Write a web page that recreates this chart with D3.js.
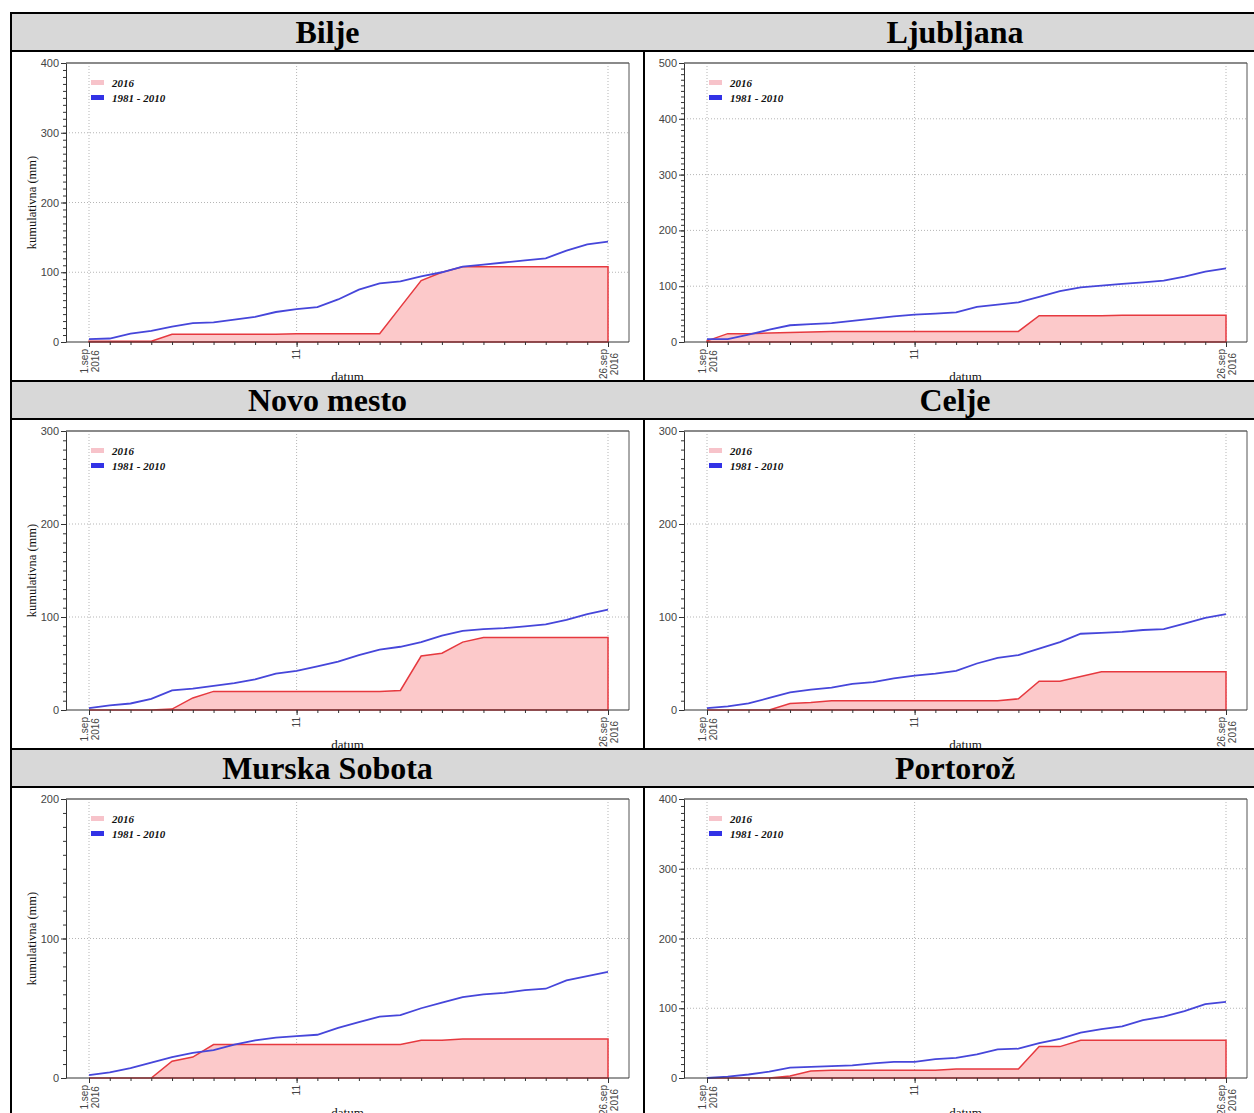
<!DOCTYPE html>
<html>
<head>
<meta charset="utf-8">
<script src="https://cdn.jsdelivr.net/npm/d3@7"></script>
<style>
  html, body { margin: 0; padding: 0; background: #fff; overflow: hidden; }
  .axis text { font-family: "Liberation Sans", Arial, sans-serif; font-size: 11px; fill: #444; }
  .axis line, .axis path { stroke: #333; }
</style>
</head>
<body>
<div id="chart"></div>
<script>
// dnevi v septembru
const days = [1,2,3,4,5,6,7,8,9,10,11,12,13,14,15,16,17,18,19,20,21,22,23,24,25,26]

// kumulativne padavine 2016 (mm)
const bilje2016 = [1,1,1,1,11,11,11,11,11,11,12,12,12,12,12,50,88,100,108,108,108,108,108,108,108,108]
const ljubljana2016 = [2,15,15,16,17,18,19,19,19,19,19,19,19,19,19,19,47,47,47,47,48,48,48,48,48,48]
const novoMesto2016 = [0,0,0,0,1,13,20,20,20,20,20,20,20,20,20,21,58,61,73,78,78,78,78,78,78,78]
const celje2016 = [0,0,0,0,7,8,10,10,10,10,10,10,10,10,10,12,31,31,36,41,41,41,41,41,41,41]
const murska2016 = [0,0,0,0,12,15,24,24,24,24,24,24,24,24,24,24,27,27,28,28,28,28,28,28,28,28]
const portoroz2016 = [0,0,0,0,3,10,11,11,11,11,11,11,13,13,13,13,45,45,54,54,54,54,54,54,54,54]

// povprecje 1981 - 2010 (mm)
const biljeNormal = [4,5,12,16,22,27,28,32,36,43,47,50,61,75,84,87,94,100,108,111,114,117,120,131,140,144]
const ljubljanaNormal = [5,5,13,22,30,32,34,38,42,46,49,51,53,63,67,71,81,91,98,101,104,107,110,117,126,132]
const novoMestoNormal = [2,5,7,12,21,23,26,29,33,39,42,47,52,59,65,68,73,80,85,87,88,90,92,97,103,108]
const celjeNormal = [2,4,7,13,19,22,24,28,30,34,37,39,42,50,56,59,66,73,82,83,84,86,87,93,99,103]
const murskaNormal = [2,4,7,11,15,18,20,24,27,29,30,31,36,40,44,45,50,54,58,60,61,63,64,70,73,76]
const portorozNormal = [0,2,5,9,15,16,17,18,21,23,23,27,29,34,41,42,50,56,65,70,74,83,88,96,106,109]

const stations = ['Bilje', 'Ljubljana', 'Novo mesto', 'Celje', 'Murska Sobota', 'Portorož']
const yMaxes = [400, 500, 300, 300, 200, 400]
const series2016 = [bilje2016, ljubljana2016, novoMesto2016, celje2016, murska2016, portoroz2016]
const seriesNormal = [biljeNormal, ljubljanaNormal, novoMestoNormal, celjeNormal, murskaNormal, portorozNormal]
const legendLabels = ['2016', '1981 - 2010']
const xTickDays = [1, 11, 26]
const xTickLabels = [['1.sep', '2016'], ['11'], ['26.sep', '2016']]
const yTitle = 'kumulativna (mm)'
const xTitle = 'datum'

// layout
const width = 1254
const height = 1113
const top0 = 12
const rowStep = 368
const headH = 36
const cellH = 328
const colEdges = [10, 643, 1265]
const plotX0 = [66, 684]
const plotW = 563
const plotH = 279

const serif = '"Liberation Serif", "Times New Roman", serif'

const svg = d3.select('#chart').append('svg')
    .attr('width', width).attr('height', height)

svg.append('rect').attr('width', width).attr('height', height).attr('fill', '#fff')

const defs = svg.append('defs')

//header vrstice
for (let row = 0; row < 3; row++) {
    const rt = top0 + row * rowStep
    svg.append('rect')
        .attr('x', colEdges[0] + 2).attr('y', rt + 2)
        .attr('width', colEdges[2] - colEdges[0] - 2).attr('height', headH)
        .attr('fill', '#d8d8d8')
}

stations.forEach((name, i) => {
    const row = Math.floor(i / 2)
    const col = i % 2
    const rt = top0 + row * rowStep
    const cellTop = rt + 40
    const cellLeft = colEdges[col] + 2
    const cellRight = colEdges[col + 1]
    const x0 = plotX0[col]
    const plotTop = cellTop + 11
    const zero = plotTop + plotH
    const yMax = yMaxes[i]

    // naslov postaje
    svg.append('text')
        .attr('x', (cellLeft + cellRight) / 2)
        .attr('y', rt + 31)
        .attr('text-anchor', 'middle')
        .attr('font-family', serif)
        .attr('font-weight', 'bold')
        .attr('font-size', 32)
        .attr('fill', '#000')
        .text(name)

    defs.append('clipPath').attr('id', 'cell' + i)
        .append('rect')
        .attr('x', cellLeft).attr('y', cellTop)
        .attr('width', cellRight - cellLeft).attr('height', cellH)

    const g = svg.append('g').attr('clip-path', `url(#cell${i})`)

    const xScale = d3.scaleLinear().domain([1, 26]).range([x0 + 23, x0 + 542])
    const yScale = d3.scaleLinear().domain([0, yMax]).range([zero, plotTop])

    // grid
    g.selectAll('.hgrid').data(d3.range(100, yMax, 100)).enter().append('line')
        .attr('x1', x0).attr('x2', x0 + plotW)
        .attr('y1', d => yScale(d)).attr('y2', d => yScale(d))
        .attr('stroke', '#b5b5b5').attr('stroke-dasharray', '1,2')
    g.selectAll('.vgrid').data(xTickDays).enter().append('line')
        .attr('x1', d => xScale(d)).attr('x2', d => xScale(d))
        .attr('y1', plotTop).attr('y2', zero)
        .attr('stroke', '#b5b5b5').attr('stroke-dasharray', '1,2')

    const data = days.map((d, k) => ({ day: d, v: series2016[i][k], n: seriesNormal[i][k] }))

    const area = d3.area()
        .x(d => xScale(d.day))
        .y0(yScale(0))
        .y1(d => yScale(d.v))
    g.append('path').datum(data)
        .attr('d', area)
        .attr('fill', '#fcc9ca')
        .attr('stroke', '#e6393f')
        .attr('stroke-width', 1.5)

    const line = d3.line()
        .x(d => xScale(d.day))
        .y(d => yScale(d.n))
    g.append('path').datum(data)
        .attr('d', line)
        .attr('fill', 'none')
        .attr('stroke', '#4646da')
        .attr('stroke-width', 1.8)

    // okvir
    g.append('line')
        .attr('x1', x0).attr('x2', x0 + plotW)
        .attr('y1', plotTop).attr('y2', plotTop)
        .attr('stroke', '#8a8a8a').attr('stroke-width', 2)
    g.append('line')
        .attr('x1', x0 + plotW).attr('x2', x0 + plotW)
        .attr('y1', plotTop).attr('y2', zero)
        .attr('stroke', '#555')

    // y os
    const yMinor = d3.axisLeft(yScale).tickValues(d3.range(0, yMax + 1, 10))
        .tickSize(3).tickSizeOuter(0).tickFormat('')
    g.append('g').attr('class', 'axis').attr('transform', `translate(${x0},0)`).call(yMinor)
    const yMajor = d3.axisLeft(yScale).tickValues(d3.range(0, yMax + 1, 100))
        .tickSize(5).tickPadding(2)
    const yG = g.append('g').attr('class', 'axis').attr('transform', `translate(${x0},0)`).call(yMajor)
    yG.select('.domain').remove()

    // x os
    const xMinor = d3.axisBottom(xScale).tickValues(days).tickSize(3).tickFormat('')
    const xG = g.append('g').attr('class', 'axis').attr('transform', `translate(0,${zero})`).call(xMinor)
    xG.select('.domain').remove()
    const xMajor = d3.axisBottom(xScale).tickValues(xTickDays).tickSize(5).tickFormat('')
    const xG2 = g.append('g').attr('class', 'axis').attr('transform', `translate(0,${zero})`).call(xMajor)
    xG2.select('.domain').remove()
    g.append('line')
        .attr('x1', x0).attr('x2', x0 + plotW)
        .attr('y1', zero).attr('y2', zero)
        .attr('stroke', '#333')

    // x labels, gedraaid
    xTickDays.forEach((d, k) => {
        const lines = xTickLabels[k]
        const lg = g.append('g')
            .attr('transform', `translate(${xScale(d)},${zero + 7}) rotate(-90)`)
        const texts = lines.map((t, j) => lg.append('text')
            .attr('font-family', '"Liberation Sans", Arial, sans-serif')
            .attr('font-size', 10)
            .attr('fill', '#444')
            .attr('text-anchor', 'middle')
            .attr('y', lines.length === 1 ? 3.5 : (j === 0 ? -1 : 10))
            .text(t))
        const maxLen = d3.max(texts, t => t.node().getComputedTextLength())
        texts.forEach(t => t.attr('x', -maxLen / 2))
    })

    // as titels
    if (col === 0) {
        g.append('text')
            .attr('transform', `translate(36,${(plotTop + zero) / 2}) rotate(-90)`)
            .attr('text-anchor', 'middle')
            .attr('font-family', serif)
            .attr('font-size', 12.5)
            .attr('fill', '#111')
            .text(yTitle)
    }
    g.append('text')
        .attr('x', x0 + plotW / 2)
        .attr('y', zero + 39)
        .attr('text-anchor', 'middle')
        .attr('font-family', serif)
        .attr('font-size', 13)
        .attr('fill', '#111')
        .text(xTitle)

    // legenda
    const legColors = ['#f7c3ca', '#3232e6']
    legendLabels.forEach((lab, k) => {
        g.append('rect')
            .attr('x', x0 + 25).attr('y', plotTop + 17 + k * 15)
            .attr('width', 13).attr('height', 5)
            .attr('fill', legColors[k])
        g.append('text')
            .attr('x', x0 + 46).attr('y', plotTop + 24 + k * 15)
            .attr('font-family', serif)
            .attr('font-size', 11)
            .attr('font-weight', 'bold')
            .attr('font-style', 'italic')
            .attr('fill', '#111')
            .text(lab)
    })
})

// tabel randen
for (let row = 0; row < 3; row++) {
    const rt = top0 + row * rowStep
    svg.append('rect').attr('x', colEdges[0]).attr('y', rt)
        .attr('width', colEdges[2] - colEdges[0] + 2).attr('height', 2).attr('fill', '#000')
    svg.append('rect').attr('x', colEdges[0]).attr('y', rt + 38)
        .attr('width', colEdges[2] - colEdges[0] + 2).attr('height', 2).attr('fill', '#000')
    colEdges.forEach(cx => {
        svg.append('rect').attr('x', cx).attr('y', rt + 38)
            .attr('width', 2).attr('height', cellH + 4).attr('fill', '#000')
    })
    svg.append('rect').attr('x', colEdges[0]).attr('y', rt)
        .attr('width', 2).attr('height', 40).attr('fill', '#000')
}
</script>
</body>
</html>
